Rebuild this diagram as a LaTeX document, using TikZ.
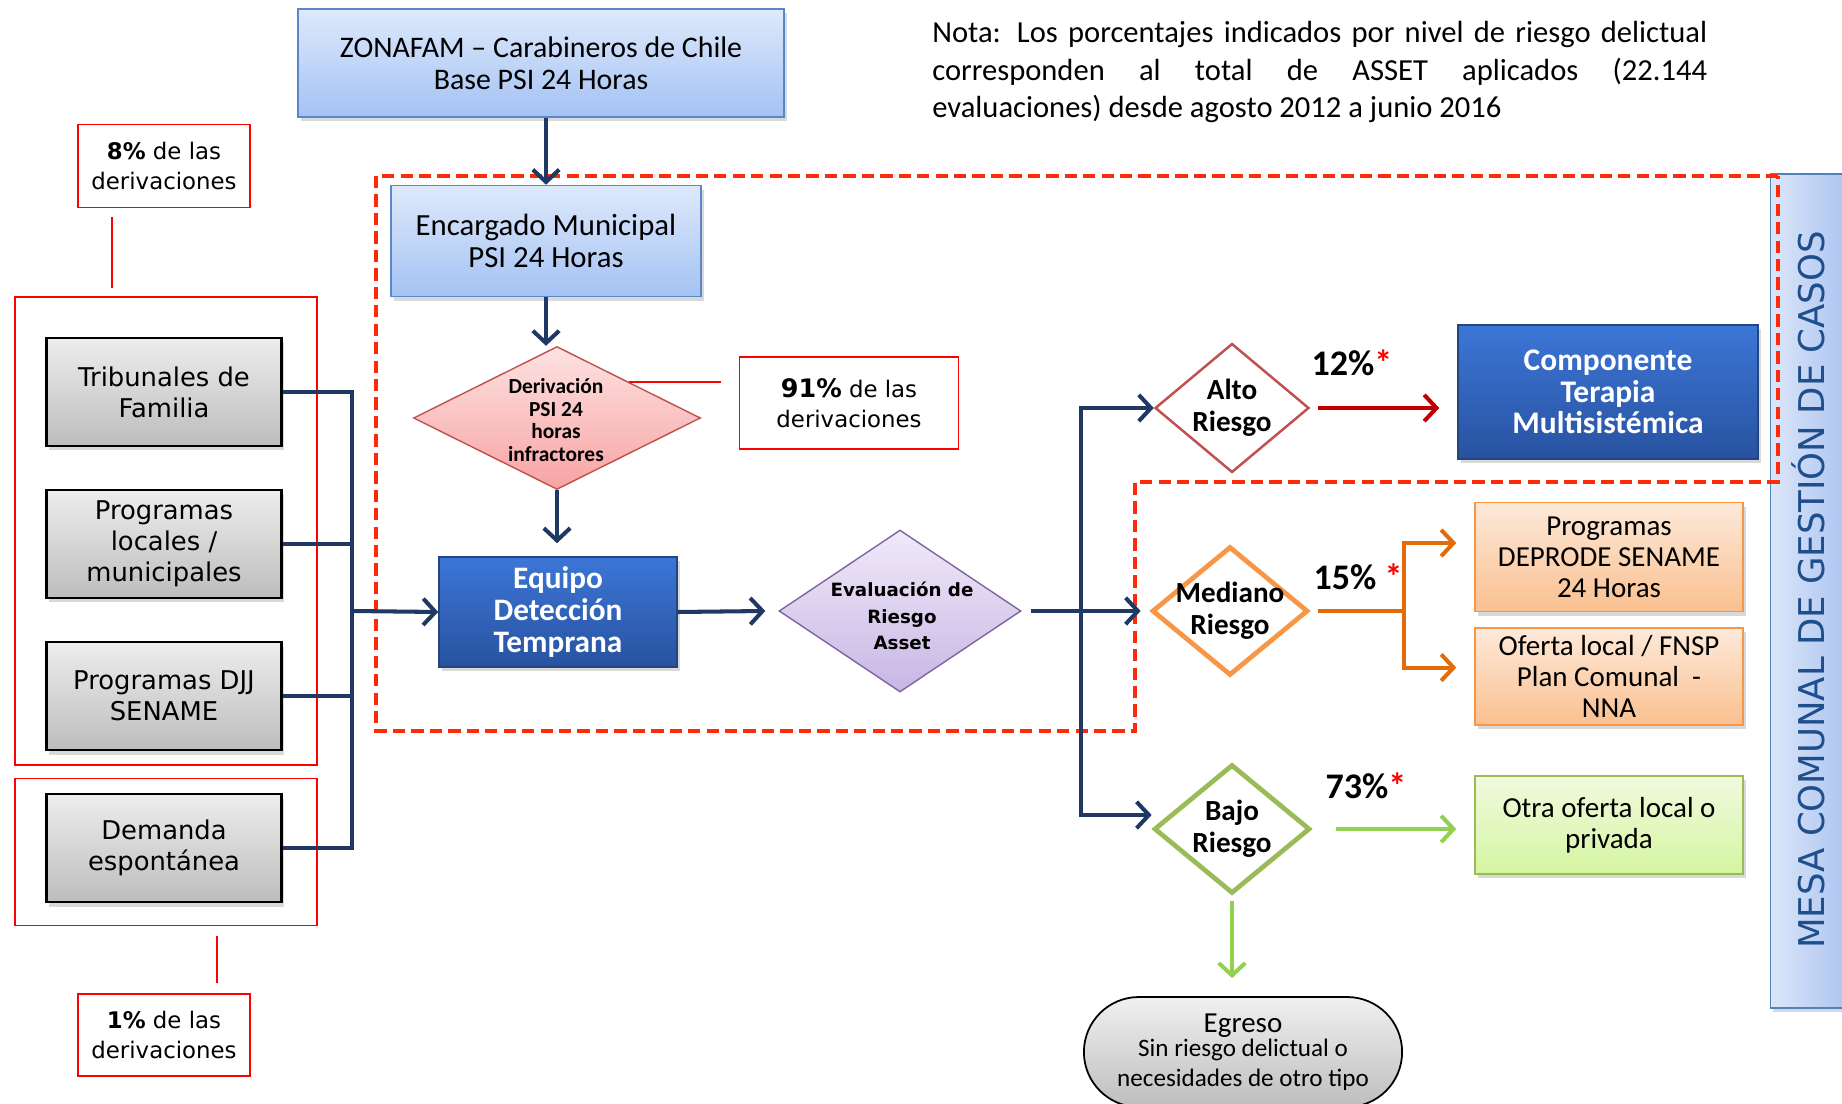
\documentclass[tikz,border=0pt]{standalone}
\usepackage{fontspec}
\setmainfont{Carlito}
\newfontfamily\verdfont{DejaVu Sans}
\usepackage{tikz}
\usetikzlibrary{positioning, shapes.geometric, shapes.misc, arrows.meta, shadows}

\definecolor{navyline}{HTML}{1F3864}
\definecolor{zonered}{HTML}{FF2A0A}
\definecolor{altored}{HTML}{C00000}
\definecolor{medorange}{HTML}{E36C0A}
\definecolor{bajogreen}{HTML}{92D050}
\definecolor{mesatext}{HTML}{1F4E8C}

\newcommand{\smallegr}{\fontsize{14.3}{14.5}\selectfont}
\newcommand{\redstar}{{\color{red}*}}

\tikzset{
    block/.style = {
        draw, align = center, inner sep = 2pt,
        drop shadow = {shadow xshift = 1.5pt, shadow yshift = -2.5pt, opacity = 0.3}
    },
    bluebox/.style = {block, draw = {rgb,255:red,91;green,135;blue,200}, line width = 0.9pt,
        top color = {rgb,255:red,222;green,233;blue,251}, bottom color = {rgb,255:red,164;green,194;blue,244},
        font = \fontsize{17}{18}\selectfont},
    darkbox/.style = {block, draw = {rgb,255:red,35;green,70;blue,127}, line width = 0.9pt,
        top color = {rgb,255:red,60;green,118;blue,214}, bottom color = {rgb,255:red,40;green,82;blue,160},
        text = white, font = \bfseries\fontsize{17.8}{18}\selectfont},
    greybox/.style = {block, draw = black, line width = 1.2pt,
        top color = {rgb,255:red,237;green,237;blue,237}, bottom color = {rgb,255:red,189;green,189;blue,189},
        minimum width = 4.7cm, minimum height = 2.16cm,
        font = \verdfont\fontsize{14.7}{17.6}\selectfont},
    orangebox/.style = {block, draw = {rgb,255:red,247;green,150;blue,70}, line width = 0.9pt,
        top color = {rgb,255:red,253;green,233;blue,217}, bottom color = {rgb,255:red,250;green,192;blue,144},
        minimum width = 5.36cm, font = \fontsize{16.5}{17.6}\selectfont},
    greenbox/.style = {block, draw = {rgb,255:red,155;green,187;blue,89}, line width = 0.9pt,
        top color = {rgb,255:red,240;green,250;blue,223}, bottom color = {rgb,255:red,213;green,245;blue,160},
        minimum width = 5.36cm, font = \fontsize{16.5}{17.6}\selectfont},
    pctbox/.style = {draw = red, line width = 1pt, align = center,
        font = \verdfont\fontsize{13}{17}\selectfont},
    group/.style = {draw = red, line width = 1pt},
    riskdia/.style = {diamond, draw, fill = white, inner sep = 0pt,
        minimum width = 3.12cm, minimum height = 2.58cm},
    risktext/.style = {align = center, font = \bfseries\fontsize{16.6}{18}\selectfont},
    pcttext/.style = {font = \bfseries\fontsize{20.5}{21}\selectfont},
    line/.style = {-{Straight Barb[length = 7pt, width = 15pt]}, line width = 2.3pt, draw = navyline},
    conn/.style = {line width = 2.3pt, draw = navyline},
    pctline/.style = {draw = red, line width = 1pt},
    zone/.style = {draw = zonered, line width = 2.2pt, dash pattern = on 7pt off 3.5pt}
}

\begin{document}
\begin{tikzpicture}[x = 0.02cm, y = -0.02cm]

    \useasboundingbox (0,0) rectangle (1842,1104);
    \clip (0,0) rectangle (1842,1104);

    % Nota
    \node[anchor = north west, inner sep = 0pt, text width = 15.5cm, align = justify,
        font = \fontsize{17.4}{21.4}\selectfont] (nota) at (932,21)
        {Nota: Los porcentajes indicados por nivel de riesgo delictual\linebreak
        corresponden al total de ASSET aplicados (22.144\linebreak
        evaluaciones) desde agosto 2012 a junio 2016};

    % Mesa comunal
    \node[draw = {rgb,255:red,79;green,129;blue,189}, line width = 1pt,
        left color = {rgb,255:red,220;green,230;blue,248}, right color = {rgb,255:red,151;green,182;blue,238},
        minimum width = 2.18cm, minimum height = 16.68cm,
        drop shadow = {shadow xshift = 1.5pt, shadow yshift = -2.5pt, opacity = 0.3}] (mesa) at (1825,591) {};
    \node[rotate = 90, text = mesatext, font = \verdfont\fontsize{20.2}{24}\selectfont] (mesalabel) at (1808,590)
        {MESA COMUNAL DE GESTIÓN DE CASOS};

    % Top
    \node[bluebox, minimum width = 9.72cm, minimum height = 2.16cm] (zon) at (541,63)
        {ZONAFAM -- Carabineros de Chile\\Base PSI 24 Horas};
    \node[bluebox, minimum width = 6.2cm, minimum height = 2.22cm, font = \fontsize{17.5}{18}\selectfont] (enc) at (546,241)
        {Encargado Municipal\\PSI 24 Horas};

    % Derivacion diamond
    \node[diamond, draw = {rgb,255:red,192;green,80;blue,77}, line width = 0.8pt, inner sep = 0pt,
        top color = {rgb,255:red,253;green,226;blue,226}, bottom color = {rgb,255:red,248;green,163;blue,163},
        minimum width = 5.74cm, minimum height = 2.86cm] (der) at (557,418) {};
    \node[align = center, font = \bfseries\fontsize{12.2}{13}\selectfont] (dertext) at (556,420)
        {Derivación\\PSI 24\\horas\\infractores};

    \node[pctbox, minimum width = 4.38cm, minimum height = 1.84cm] (pct91) at (849,403)
        {{\fontsize{14.5}{17}\selectfont\bfseries 91\%} de las\\derivaciones};

    \node[darkbox, minimum width = 4.76cm, minimum height = 2.2cm] (equ) at (558,612)
        {Equipo\\Detección\\Temprana};

    % Evaluacion diamond
    \node[diamond, draw = {rgb,255:red,128;green,100;blue,162}, line width = 0.8pt, inner sep = 0pt,
        top color = {rgb,255:red,240;green,234;blue,249}, bottom color = {rgb,255:red,200;green,182;blue,228},
        minimum width = 4.84cm, minimum height = 3.24cm] (eval) at (900,611) {};
    \node[align = center, font = \verdfont\bfseries\fontsize{10.4}{15}\selectfont] (evaltext) at (902,616)
        {Evaluación de\\Riesgo\\Asset};

    % Left sources
    \node[greybox] (trib) at (164,392) {Tribunales de\\Familia};
    \node[greybox, below = 0.84cm of trib] (loc) {Programas\\locales /\\municipales};
    \node[greybox, below = 0.84cm of loc] (djj) {Programas DJJ\\SENAME};
    \node[greybox, below = 0.84cm of djj] (dem) {Demanda\\espontánea};

    \node[group, minimum width = 6.04cm, minimum height = 9.36cm] (grp1) at (166,531) {};
    \node[group, minimum width = 6.04cm, minimum height = 2.94cm] (grp2) at (166,852) {};

    \node[pctbox, minimum width = 3.44cm, minimum height = 1.66cm] (pct8) at (164,166)
        {{\bfseries 8\%} de las\\derivaciones};
    \node[pctbox, minimum width = 3.44cm, minimum height = 1.64cm] (pct1) at (164,1035)
        {{\bfseries 1\%} de las\\derivaciones};

    % Risk levels
    \node[riskdia, draw = {rgb,255:red,192;green,80;blue,77}, line width = 1.4pt,
        minimum width = 3.08cm] (alto) at (1232,408) {};
    \node[risktext] (altotext) at (alto) {Alto\\Riesgo};
    \node[riskdia, draw = {rgb,255:red,247;green,150;blue,70}, line width = 2.7pt] (med) at (1230,611) {};
    \node[risktext] (medtext) at (med) {Mediano\\Riesgo};
    \node[riskdia, draw = {rgb,255:red,155;green,187;blue,89}, line width = 2.7pt] (bajo) at (1232,829) {};
    \node[risktext] (bajotext) at (bajo) {Bajo\\Riesgo};

    \node[pcttext] (p12) at (1352,363) {12\%\redstar};
    \node[pcttext] (p15) at (1358,577) {15\% \redstar};
    \node[pcttext] (p73) at (1366,786) {73\%\redstar};

    % Offers
    \node[darkbox, minimum width = 6cm, minimum height = 2.68cm, font = \bfseries\fontsize{17.9}{18}\selectfont] (comp) at (1608,392)
        {Componente\\Terapia\\Multisistémica};
    \node[orangebox, minimum height = 2.18cm] (dep) at (1609,557) {Programas\\DEPRODE SENAME\\24 Horas};
    \node[orangebox, minimum height = 1.94cm, below = 0.3cm of dep] (ofe) {Oferta local / FNSP\\Plan Comunal \ -\\NNA};
    \node[greenbox, minimum height = 1.96cm] (otra) at (1609,825) {Otra oferta local o\\privada};

    \node[rounded rectangle, draw, line width = 1pt, align = center,
        top color = {rgb,255:red,240;green,240;blue,240}, bottom color = {rgb,255:red,190;green,190;blue,190},
        minimum width = 6.6cm, minimum height = 2.2cm, font = \fontsize{16.5}{17}\selectfont] (egr) at (1243,1052)
        {Egreso\\[-3pt]{\smallegr Sin riesgo delictual o}\\{\smallegr necesidades de otro tipo}};

    % Dashed zone
    \draw[zone] (1778,176) -- (376,176) -- (376,731) -- (1135,731) -- (1135,482) -- (1778,482) -- cycle;

    % Lines
    \coordinate (trunkL) at (352,611);
    \coordinate (trunkR) at (1081,611);
    \coordinate (medsplit) at (1404,611);

    \draw[conn] (trib.east) -| (trunkL);
    \draw[conn] (loc.east) -| (trunkL);
    \draw[conn] (djj.east) -| (trunkL);
    \draw[conn] (dem.east) -| (trunkL);
    \draw[line] (trunkL) -- (equ.west);

    \draw[line] (enc.north |- zon.south) -- (enc.north);
    \draw[line] (enc.south) -- (enc.south |- der.north);
    \draw[line] (der.south) -- ([yshift = 0.26cm]der.south |- equ.north);
    \draw[line] (equ.east) -- ([xshift = -0.26cm]eval.west);
    \draw[line] ([xshift = 0.18cm]eval.east) -- ([xshift = -0.18cm]med.west);
    \draw[line] (trunkR) |- (alto.west);
    \draw[line] (trunkR) |- ([yshift = 0.28cm]bajo.west);

    \draw[line, draw = altored] ([xshift = 0.16cm]alto.east) -- ([xshift = -0.36cm]alto.east -| comp.west);
    \draw[conn, draw = medorange] ([xshift = 0.16cm]med.east) -- (medsplit);
    \draw[line, draw = medorange] (medsplit) |- ([xshift = -0.36cm, yshift = 0.28cm]dep.west);
    \draw[line, draw = medorange] (medsplit) |- ([xshift = -0.36cm, yshift = 0.18cm]ofe.west);
    \draw[line, draw = bajogreen] ([xshift = 0.48cm]bajo.east) -- ([xshift = -0.36cm]bajo.east -| otra.west);
    \draw[line, draw = bajogreen] ([yshift = -0.1cm]bajo.south) -- ([yshift = 0.36cm]bajo.south |- egr.north);

    \draw[pctline] (der.north east) -- ([xshift = -0.36cm]der.north east -| pct91.west);
    \draw[pctline] ([xshift = -1.04cm, yshift = -0.18cm]pct8.south) -- ([xshift = -1.04cm, yshift = 0.16cm]pct8.south |- grp1.north);
    \draw[pctline] ([xshift = 1.06cm, yshift = -0.2cm]pct1.north |- grp2.south) -- ([xshift = 1.06cm, yshift = 0.2cm]pct1.north);

\end{tikzpicture}
\end{document}
